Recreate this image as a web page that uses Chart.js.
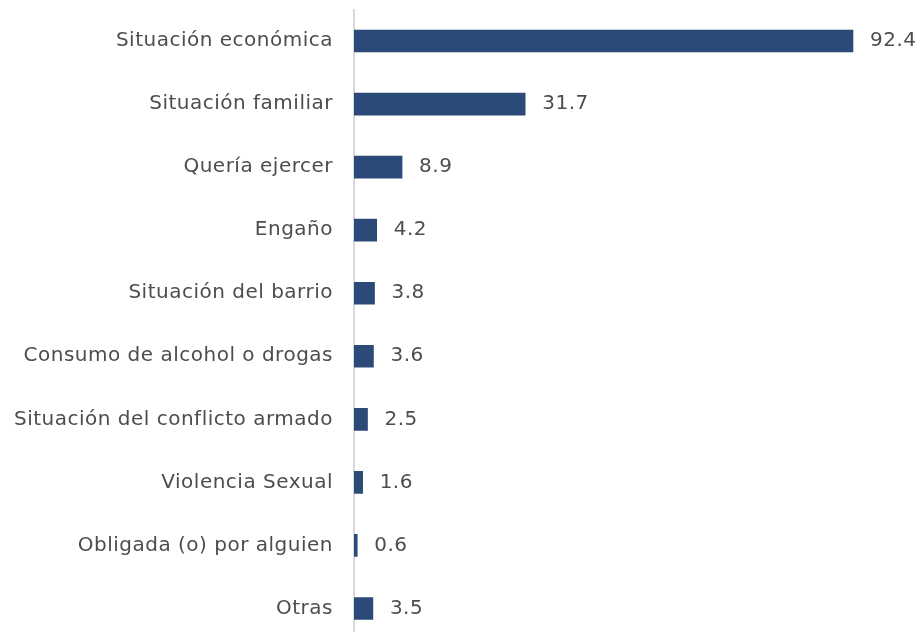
<!DOCTYPE html>
<html>
<head>
<meta charset="utf-8">
<script src="https://cdn.jsdelivr.net/npm/chart.js@4.4.1/dist/chart.umd.min.js"></script>
<style>
  html, body { margin: 0; padding: 0; background: #fff; overflow: hidden; }
  #wrap { width: 917px; height: 640px; position: relative; }
</style>
</head>
<body>
<div id="wrap"><canvas id="c"></canvas></div>
<script>
// datos del gráfico
const categories = [
  'Situación económica',
  'Situación familiar',
  'Quería ejercer',
  'Engaño',
  'Situación del barrio',
  'Consumo de alcohol o drogas',
  'Situación del conflicto armado',
  'Violencia Sexual',
  'Obligada (o) por alguien',
  'Otras'
];
const values = [92.4, 31.7, 8.9, 4.2, 3.8, 3.6, 2.5, 1.6, 0.6, 3.5];

const FONT = '"DejaVu Sans", sans-serif';
const TEXT = '#4d4d4d';

// espaciado de letras un poco más abierto, como la fuente original
const spacing = {
  id: 'spacing',
  beforeDraw(chart) { chart.ctx.letterSpacing = '0.5px'; }
};

// etiquetas de valor al final de cada barra
const valueLabels = {
  id: 'valueLabels',
  afterDatasetsDraw(chart) {
    const ctx = chart.ctx;
    const meta = chart.getDatasetMeta(0);
    ctx.save();
    ctx.font = '20px ' + FONT;
    ctx.fillStyle = TEXT;
    ctx.textBaseline = 'middle';
    ctx.textAlign = 'left';
    meta.data.forEach((bar, i) => {
      ctx.fillText(values[i].toFixed(1), bar.x + 17, bar.y);
    });
    ctx.restore();
  }
};

new Chart(document.getElementById('c'), {
  type: 'bar',
  data: {
    labels: categories,
    datasets: [{
      data: values,
      backgroundColor: '#2b4a78',
      barThickness: 22
    }]
  },
  options: {
    indexAxis: 'y',
    responsive: true,
    maintainAspectRatio: false,
    animation: false,
    layout: { padding: { top: 9.5, right: 23, bottom: 0, left: 0 } },
    plugins: { legend: { display: false }, tooltip: { enabled: false } },
    scales: {
      x: {
        display: false,
        min: 0,
        max: 100
      },
      y: {
        grid: { display: false, drawTicks: false },
        border: { display: true, color: '#d9d9d9', width: 2 },
        ticks: {
          color: TEXT,
          padding: 21,
          font: { family: FONT, size: 20 }
        },
        afterFit(scale) {
          scale.width = 354;
          scale.paddingTop = 0;
          scale.paddingBottom = 0;
        }
      }
    }
  },
  plugins: [spacing, valueLabels]
});
</script>
</body>
</html>
